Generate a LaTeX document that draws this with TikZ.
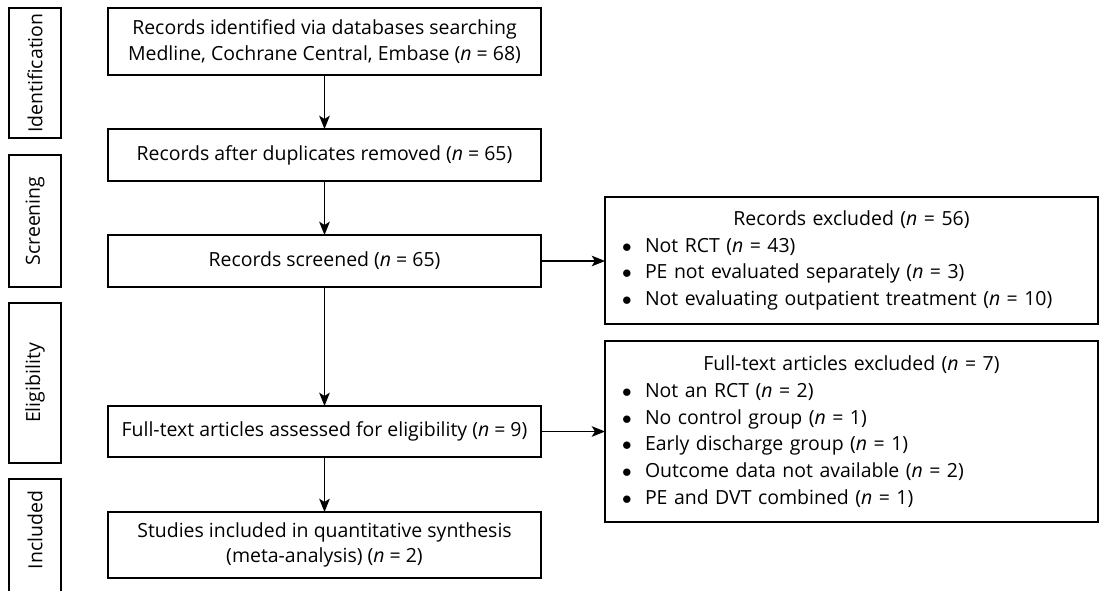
\documentclass[tikz,border=0pt]{standalone}
\usepackage{fontspec}
\setmainfont{Open Sans}
\usetikzlibrary{arrows.meta}
\newcommand{\nval}[1]{(\textit{n} = #1)}
\newcommand{\bitem}[1]{\makebox[17.25pt][l]{$\bullet$}#1\par}

\tikzset{
  box/.style={draw, line width=0.9pt, outer sep=0pt, align=center,
    minimum width=324.75pt},
  xbox/.style={draw, line width=0.9pt, outer sep=0pt, text width=344.25pt,
    inner xsep=12.75pt, align=left},
  stage/.style={draw, line width=0.9pt, outer sep=0pt, rotate=90,
    minimum height=39pt},
  arr/.style={line width=0.9pt, -{Stealth[length=10pt,width=8pt,inset=2.5pt]}}
}

\begin{document}
\begin{tikzpicture}[x=0.75pt,y=-0.75pt,font=\fontsize{14.6}{19}\selectfont]
  \useasboundingbox (0,0) rectangle (1099,590);
  \clip (0,0) rectangle (1099,590);

  % stage labels on the left
  \node[stage,minimum width=97.5pt] (stId) at (35,73) {Identification};
  \node[stage,minimum width=99pt] (stScr) at (35,221) {Screening};
  \node[stage,minimum width=120pt] (stElig) at (35,383) {Eligibility};
  % last stage box runs off the page
  \draw[line width=0.9pt] (9,640) |- (61,479) -- (61,640);
  \node[rotate=90] (stIncl) at (35,530) {Included};

  % main column
  \node[box,minimum height=50.25pt] (ident) at (324.5,41.5)
    {Records identified via databases searching\\
     Medline, Cochrane Central, Embase \nval{68}};
  \node[box,minimum height=39pt] (dupl) at (324.5,155)
    {Records after duplicates removed \nval{65}};
  \node[box,minimum height=39pt] (screen) at (324.5,261)
    {Records screened \nval{65}};
  \node[box,minimum height=38.25pt] (fulltxt) at (324.5,431.5)
    {Full-text articles assessed for eligibility \nval{9}};
  \node[box,minimum height=49.5pt] (incl) at (324.5,545)
    {Studies included in quantitative synthesis\\
     (meta-analysis) \nval{2}};

  % exclusion boxes
  \begin{scope}[font=\fontsize{14.6}{20}\selectfont]
  \node[xbox,minimum height=95.25pt] (exScr) at (851.5,260.5)
    {{\centering Records excluded \nval{56}\par}
     \bitem{Not RCT \nval{43}}
     \bitem{PE not evaluated separately \nval{3}}
     \bitem{Not evaluating outpatient treatment \nval{10}}};
  \node[xbox,minimum height=135.75pt] (exFull) at (851.5,431.5)
    {{\centering Full-text articles excluded \nval{7}\par}
     \bitem{Not an RCT \nval{2}}
     \bitem{No control group \nval{1}}
     \bitem{Early discharge group \nval{1}}
     \bitem{Outcome data not available \nval{2}}
     \bitem{PE and DVT combined \nval{1}}};
  \end{scope}

  \draw[arr] (ident) -- (dupl);
  \draw[arr] (dupl) -- (screen);
  \draw[arr] (screen) -- (fulltxt);
  \draw[arr] (fulltxt) -- (incl);
  \draw[arr] (screen.east) -- (screen.east -| exScr.west);
  \draw[arr] (fulltxt.east) -- (fulltxt.east -| exFull.west);
\end{tikzpicture}
\end{document}
